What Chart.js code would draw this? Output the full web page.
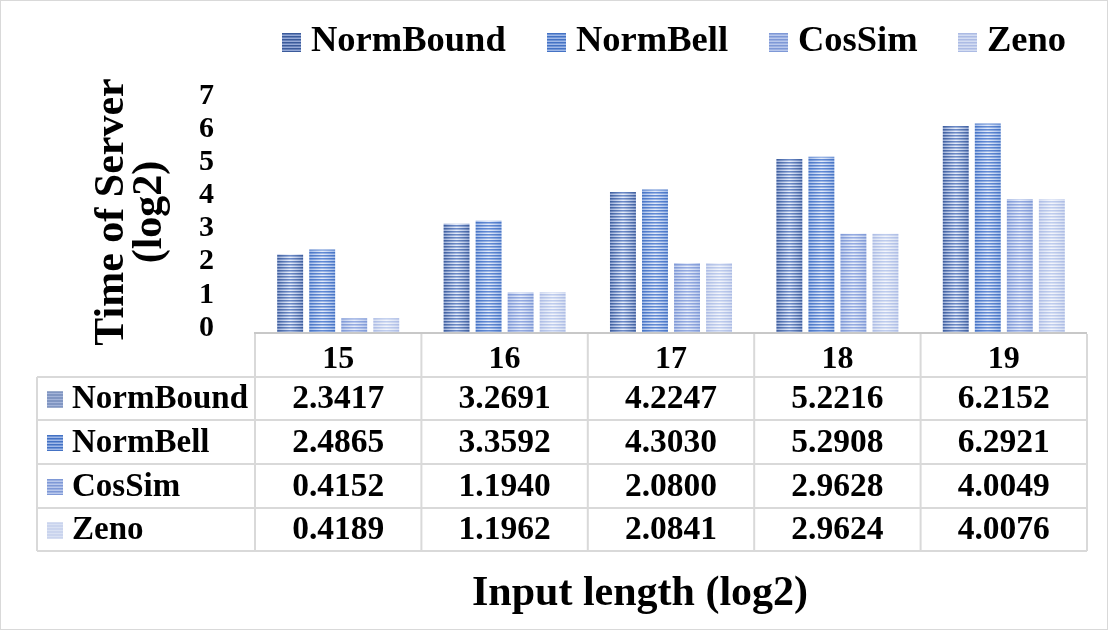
<!DOCTYPE html>
<html><head><meta charset="utf-8">
<script src="https://cdn.jsdelivr.net/npm/chart.js@4/dist/chart.umd.min.js"></script>
<style>html,body{margin:0;padding:0;background:#fff}canvas{display:block}</style>
</head><body>
<canvas id="c" width="1108" height="630"></canvas>
<script>
const categories = ['15', '16', '17', '18', '19'];
const normBound = [2.3417, 3.2691, 4.2247, 5.2216, 6.2152];
const normBell  = [2.4865, 3.3592, 4.3030, 5.2908, 6.2921];
const cosSim    = [0.4152, 1.1940, 2.0800, 2.9628, 4.0049];
const zeno      = [0.4189, 1.1962, 2.0841, 2.9624, 4.0076];
const seriesNames = ['NormBound', 'NormBell', 'CosSim', 'Zeno'];
const yTitleLines = ['Time of Server', '(log2)'];
const xTitle = 'Input length (log2)';

const FONT = '"Liberation Serif", "Times New Roman", serif';
const styles = [
  {ed: [58, 90, 154], el: [150, 170, 215], cd: [110, 140, 200], cl: [232, 238, 250]},
  {ed: [68, 114, 196], el: [160, 185, 232], cd: [100, 140, 214], cl: [228, 236, 250]},
  {ed: [126, 152, 214], el: [185, 200, 236], cd: [150, 172, 226], cl: [234, 239, 250]},
  {ed: [172, 187, 228], el: [212, 221, 242], cd: [192, 206, 238], cl: [244, 246, 252]}
];
function mix(a, b, t) { return a.map((v, i) => Math.round(v + (b[i] - v) * t)); }
function rgb(a) { return 'rgb(' + a.join(',') + ')'; }
function stripeCanvas(w, s) {
  const cv = document.createElement('canvas');
  cv.width = Math.max(1, w); cv.height = 3;
  const g = cv.getContext('2d');
  for (let px = 0; px < cv.width; px++) {
    let t = 1 - Math.abs((px + 0.5) / cv.width - 0.5) * 2;
    t = Math.pow(t, 0.8);
    const d = mix(s.ed, s.cd, t), l = mix(s.el, s.cl, t);
    g.fillStyle = rgb(d); g.fillRect(px, 0, 1, 1);
    g.fillStyle = rgb(mix(d, l, 0.45)); g.fillRect(px, 1, 1, 1);
    g.fillStyle = rgb(l); g.fillRect(px, 2, 1, 1);
  }
  return cv;
}

const stripePlugin = {
  id: 'stripes',
  beforeDatasetsDraw(chart) {
    const ctx = chart.ctx;
    chart.data.datasets.forEach((ds, di) => {
      const meta = chart.getDatasetMeta(di);
      meta.data.forEach(el => {
        const w = Math.round(el.width);
        const left = el.x - el.width / 2;
        const pat = ctx.createPattern(stripeCanvas(w, styles[di]), 'repeat');
        pat.setTransform(new DOMMatrix().translate(left, 0));
        el.options.backgroundColor = pat;
      });
    });
  }
};

function drawKey(ctx, x, y, size, di) {
  const s = styles[di];
  for (let r = 0; r < size; r++) {
    const k = r % 3;
    const c = k === 0 ? s.ed : (k === 1 ? mix(s.ed, s.el, 0.5) : s.el);
    ctx.fillStyle = rgb(c);
    ctx.fillRect(x, y + r, size, 1);
  }
}

const legendX = [282, 547, 769, 958];

const decorPlugin = {
  id: 'decor',
  afterDraw(chart) {
    const ctx = chart.ctx;
    const ca = chart.chartArea;
    const xs = chart.scales.x;
    const n = categories.length;
    const cw = (ca.right - ca.left) / n;
    const allSeries = [normBound, normBell, cosSim, zeno];
    ctx.save();
    // axis line
    ctx.strokeStyle = '#c8c8c8'; ctx.lineWidth = 2;
    ctx.beginPath(); ctx.moveTo(ca.left - 1, ca.bottom + 1); ctx.lineTo(ca.right, ca.bottom + 1); ctx.stroke();
    // table grid
    const rowYs = [377, 420, 464, 508, 551];
    const tableLeft = 37;
    ctx.strokeStyle = '#d9d9d9'; ctx.lineWidth = 2;
    ctx.beginPath();
    for (let i = 0; i <= n; i++) {
      const x = ca.left + i * cw;
      ctx.moveTo(x, ca.bottom + 2); ctx.lineTo(x, rowYs[rowYs.length - 1]);
    }
    rowYs.forEach(y => { ctx.moveTo(tableLeft, y); ctx.lineTo(ca.right, y); });
    ctx.moveTo(tableLeft, rowYs[0]); ctx.lineTo(tableLeft, rowYs[rowYs.length - 1]);
    ctx.stroke();
    // table text
    ctx.fillStyle = '#000';
    ctx.textBaseline = 'middle';
    for (let r = 0; r < 4; r++) {
      const cy = (rowYs[r] + rowYs[r + 1]) / 2 + 1;
      drawKey(ctx, 47, cy - 8, 16, r);
      ctx.fillStyle = '#000';
      ctx.textAlign = 'left';
      ctx.font = 'bold 33px ' + FONT;
      ctx.fillText(seriesNames[r], 72, cy);
      ctx.textAlign = 'center';
      ctx.font = 'bold 33.5px ' + FONT;
      for (let c = 0; c < n; c++) {
        ctx.fillText(allSeries[r][c].toFixed(4), xs.getPixelForValue(c), cy);
      }
    }
    // legend
    ctx.font = 'bold 36.5px ' + FONT;
    ctx.textAlign = 'left';
    const ly = 42;
    seriesNames.forEach((name, i) => {
      drawKey(ctx, legendX[i], ly - 9, 19, i);
      ctx.fillStyle = '#000';
      ctx.fillText(name, legendX[i] + 29, ly);
    });
    // y title
    ctx.font = 'bold 42px ' + FONT;
    ctx.textAlign = 'center';
    ctx.save();
    ctx.translate(112, 212); ctx.rotate(-Math.PI / 2);
    ctx.fillText(yTitleLines[0], 0, 0);
    ctx.restore();
    ctx.save();
    ctx.translate(150, 212); ctx.rotate(-Math.PI / 2);
    ctx.fillText(yTitleLines[1], 0, 0);
    ctx.restore();
    // x title
    ctx.font = 'bold 42px ' + FONT;
    ctx.fillText(xTitle, 640, 594);
    // outer border
    ctx.strokeStyle = '#d9d9d9'; ctx.lineWidth = 1;
    ctx.strokeRect(0.5, 0.5, 1107, 629);
    ctx.restore();
  }
};

new Chart(document.getElementById('c'), {
  type: 'bar',
  data: {
    labels: categories,
    datasets: [normBound, normBell, cosSim, zeno].map((d, i) => ({
      label: seriesNames[i],
      data: d,
      backgroundColor: (c) => rgb(styles[c.datasetIndex].ed),
      borderWidth: 0,
      categoryPercentage: 0.77,
      barPercentage: 0.81
    }))
  },
  options: {
    responsive: false,
    animation: false,
    devicePixelRatio: 1,
    layout: {padding: {top: 100, right: 21, left: 0, bottom: 0}},
    plugins: {legend: {display: false}, tooltip: {enabled: false}},
    scales: {
      x: {
        grid: {display: false}, border: {display: false},
        ticks: {color: '#000', font: {family: FONT, size: 32, weight: 'bold'}, padding: 1},
        afterFit(s) { s.height = 298; }
      },
      y: {
        min: 0, max: 7,
        grid: {display: false}, border: {display: false},
        ticks: {stepSize: 1, autoSkip: false, labelOffset: -4, color: '#000', font: {family: FONT, size: 30, weight: 'bold'}, padding: 33},
        afterFit(s) { s.width = 255; }
      }
    }
  },
  plugins: [stripePlugin, decorPlugin]
});
</script>
</body></html>
